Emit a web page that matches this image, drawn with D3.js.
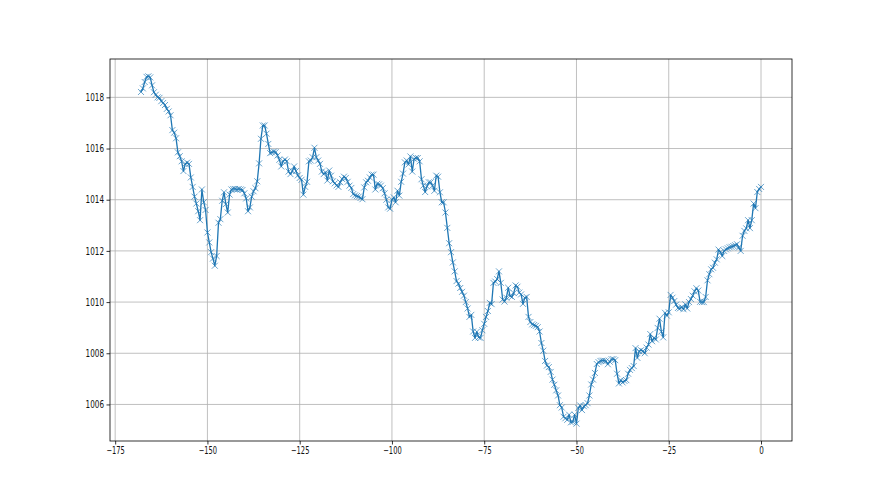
<!DOCTYPE html>
<html>
<head>
<meta charset="utf-8">
<script src="https://cdn.jsdelivr.net/npm/d3@7"></script>
<style>
  body { margin: 0; background: #fff; }
  svg { display: block; }
  .tick text { font-family: "DejaVu Sans", sans-serif; font-size: 10px; fill: #111; }
</style>
</head>
<body>
<svg id="chart"></svg>
<script>
// Tick values shown on the axes
const xTicks = [-175, -150, -125, -100, -75, -50, -25, 0];
const yTicks = [1006, 1008, 1010, 1012, 1014, 1016, 1018];

// Pressure readings, one every half hour from -168 h to 0 h
const pressure = [
  1018.21, 1018.35, 1018.6, 1018.8, 1018.82, 1018.78, 1018.47, 1018.2, 1018.1, 1018.0,
  1017.98, 1017.85, 1017.78, 1017.7, 1017.55, 1017.45, 1017.3, 1016.72, 1016.62, 1016.4,
  1015.85, 1015.7, 1015.5, 1015.12, 1015.4, 1015.45, 1015.4, 1014.87, 1014.5, 1014.12,
  1013.85, 1013.55, 1013.2, 1014.4, 1013.9, 1013.6, 1012.72, 1012.33, 1011.95, 1011.7,
  1011.42, 1011.8, 1013.1, 1013.24, 1013.96, 1014.29, 1013.83, 1013.5, 1014.2, 1014.4,
  1014.42, 1014.42, 1014.4, 1014.42, 1014.4, 1014.38, 1014.25, 1014.05, 1013.55, 1013.7,
  1014.12, 1014.33, 1014.45, 1014.72, 1015.42, 1016.38, 1016.9, 1016.9, 1016.58, 1016.18,
  1015.82, 1015.85, 1015.88, 1015.86, 1015.73, 1015.56, 1015.3, 1015.5, 1015.57, 1015.5,
  1015.1, 1015.0, 1015.12, 1015.3, 1015.12, 1014.95, 1014.85, 1014.78, 1014.2, 1014.5,
  1014.7, 1015.5, 1015.53, 1015.66, 1016.03, 1015.66, 1015.53, 1015.4, 1015.1, 1015.0,
  1015.07, 1014.75, 1015.14, 1014.94, 1014.72, 1014.64, 1014.56, 1014.5, 1014.68, 1014.81,
  1014.9, 1014.85, 1014.7, 1014.55, 1014.46, 1014.22, 1014.17, 1014.14, 1014.12, 1014.07,
  1014.02, 1014.48, 1014.68, 1014.74, 1014.87, 1014.98, 1014.98, 1014.4, 1014.62, 1014.6,
  1014.55, 1014.45, 1014.25, 1014.0, 1013.7, 1013.65, 1014.0, 1014.09, 1013.9, 1014.35,
  1014.16, 1014.7, 1015.02, 1015.46, 1015.53, 1015.38, 1015.69, 1015.1, 1015.6, 1015.63,
  1015.63, 1015.5, 1014.8, 1014.55, 1014.3, 1014.52, 1014.68, 1014.68, 1014.55, 1014.35,
  1014.94, 1014.9, 1014.29, 1013.9, 1013.9, 1013.5, 1012.9, 1012.3, 1011.95, 1011.55,
  1011.2, 1010.82, 1010.72, 1010.55, 1010.4, 1010.25, 1010.0, 1009.75, 1009.42, 1009.5,
  1008.85, 1008.6, 1008.84, 1008.62, 1008.6, 1008.9, 1009.15, 1009.42, 1009.65, 1009.97,
  1009.92, 1010.75, 1010.8, 1010.9, 1011.2, 1010.75, 1010.1, 1010.02, 1010.17, 1010.56,
  1010.24, 1010.2, 1010.35, 1010.65, 1010.6, 1010.37, 1010.3, 1009.93, 1010.17, 1010.2,
  1009.42, 1009.22, 1009.13, 1009.1, 1009.07, 1009.02, 1008.85, 1008.4, 1008.1, 1007.7,
  1007.52, 1007.46, 1007.27, 1006.97, 1006.77, 1006.55, 1006.35, 1005.97, 1005.88, 1005.52,
  1005.46, 1005.4, 1005.6, 1005.3, 1005.32, 1005.6, 1005.25, 1005.86, 1005.96, 1005.78,
  1005.93, 1005.97, 1006.05, 1006.35, 1006.78, 1006.97, 1007.23, 1007.58, 1007.65, 1007.7,
  1007.71, 1007.71, 1007.69, 1007.57, 1007.67, 1007.77, 1007.77, 1007.73, 1007.2, 1006.82,
  1006.95, 1006.86, 1006.92, 1006.95, 1007.2, 1007.35, 1007.42, 1007.5, 1008.2, 1007.82,
  1008.08, 1008.12, 1008.08, 1008.0, 1008.22, 1008.34, 1008.75, 1008.47, 1008.6, 1008.54,
  1008.99, 1009.35, 1008.85, 1008.62, 1009.58, 1009.47, 1009.6, 1010.28, 1010.17, 1010.04,
  1009.9, 1009.77, 1009.75, 1009.8, 1009.72, 1009.91, 1009.75, 1010.0, 1010.12, 1010.25,
  1010.42, 1010.54, 1010.45, 1010.01, 1010.0, 1010.0, 1010.2, 1010.85, 1011.09, 1011.28,
  1011.34, 1011.54, 1011.67, 1012.05, 1011.95, 1011.8, 1012.0, 1012.06, 1012.1, 1012.14,
  1012.16, 1012.19, 1012.22, 1012.26, 1012.13, 1012.0, 1012.59, 1012.78, 1012.88, 1013.2,
  1012.89, 1013.2, 1013.85, 1013.67, 1014.3, 1014.42, 1014.5
];

// Hours relative to now (half-hour grid)
const hours = d3.range(-168, 0.5, 0.5);

const width = 880;
const height = 495;
// Same margins as a default matplotlib subplot
const margin = { left: 110, right: 88, top: 59, bottom: 54 };
const plotW = width - margin.left - margin.right;
const plotH = height - margin.top - margin.bottom;

const points = hours.map((h, i) => ({ h: h, p: pressure[i] })).filter(d => d.p !== undefined);

// 5% padding around the data, like matplotlib autoscale
const xExt = d3.extent(points, d => d.h);
const yExt = d3.extent(points, d => d.p);
const xPad = (xExt[1] - xExt[0]) * 0.05;
const yPad = (yExt[1] - yExt[0]) * 0.05;

const x = d3.scaleLinear()
    .domain([xExt[0] - xPad, xExt[1] + xPad])
    .range([0, plotW]);
const y = d3.scaleLinear()
    .domain([yExt[0] - yPad, yExt[1] + yPad])
    .range([plotH, 0]);

const svg = d3.select('#chart')
    .attr('width', width)
    .attr('height', height);

const g = svg.append('g')
    .attr('transform', `translate(${margin.left},${margin.top})`);

const fmt = v => String(v).replace('-', '\u2212');

// Grid lines
g.append('g')
    .selectAll('line')
    .data(xTicks)
    .join('line')
    .attr('x1', d => x(d)).attr('x2', d => x(d))
    .attr('y1', 0).attr('y2', plotH)
    .attr('stroke', '#b0b0b0')
    .attr('stroke-width', 0.8);

g.append('g')
    .selectAll('line')
    .data(yTicks)
    .join('line')
    .attr('x1', 0).attr('x2', plotW)
    .attr('y1', d => y(d)).attr('y2', d => y(d))
    .attr('stroke', '#b0b0b0')
    .attr('stroke-width', 0.8);

// The line
const line = d3.line()
    .x(d => x(d.h))
    .y(d => y(d.p));

g.append('path')
    .datum(points)
    .attr('fill', 'none')
    .attr('stroke', '#1f77b4')
    .attr('stroke-width', 1.3)
    .attr('stroke-linejoin', 'round')
    .attr('d', line);

// 'x' markers
g.append('g')
    .selectAll('path')
    .data(points)
    .join('path')
    .attr('transform', d => `translate(${x(d.h)},${y(d.p)})`)
    .attr('d', 'M-3,-3L3,3M-3,3L3,-3')
    .attr('stroke', '#1f77b4')
    .attr('stroke-width', 0.9)
    .attr('stroke-opacity', 0.75)
    .attr('fill', 'none');

// Axes
const xAxis = d3.axisBottom(x)
    .tickValues(xTicks)
    .tickFormat(fmt)
    .tickSize(3.5)
    .tickPadding(2.5);

const yAxis = d3.axisLeft(y)
    .tickValues(yTicks)
    .tickFormat(fmt)
    .tickSize(3.5)
    .tickPadding(2.5);

const gx = g.append('g')
    .attr('transform', `translate(0,${plotH})`)
    .call(xAxis);
const gy = g.append('g')
    .call(yAxis);

[gx, gy].forEach(a => {
    a.select('.domain').remove();
    a.selectAll('.tick line').attr('stroke', '#000').attr('stroke-width', 0.8);
    // the reference labels are narrow, so squeeze them a bit
    a.selectAll('.tick text')
        .attr('textLength', function() { return this.textContent.length * 4.6; })
        .attr('lengthAdjust', 'spacingAndGlyphs');
});

// Frame
g.append('rect')
    .attr('x', 0).attr('y', 0)
    .attr('width', plotW).attr('height', plotH)
    .attr('fill', 'none')
    .attr('stroke', '#000')
    .attr('stroke-width', 0.8);
</script>
</body>
</html>
